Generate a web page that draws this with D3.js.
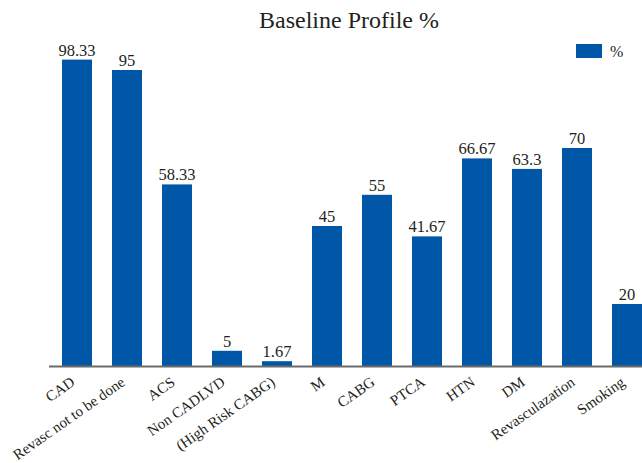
<!DOCTYPE html>
<html>
<head>
<meta charset="utf-8">
<script src="https://cdn.jsdelivr.net/npm/d3@7/dist/d3.min.js"></script>
<style>
  html, body { margin: 0; padding: 0; background: #fff; }
  svg { display: block; }
  text { font-family: "Liberation Serif", "Times New Roman", serif; fill: #231f20; }
</style>
</head>
<body>
<svg id="chart" width="642" height="463"></svg>
<script>
// Baseline profile of the study group, in percent
const categories = [
  "CAD", "Revasc not to be done", "ACS", "Non CADLVD", "(High Risk CABG)",
  "M", "CABG", "PTCA", "HTN", "DM", "Revasculazation", "Smoking"
];
const values = [98.33, 95, 58.33, 5, 1.67, 45, 55, 41.67, 66.67, 63.3, 70, 20];
const valueLabels = ["98.33", "95", "58.33", "5", "1.67", "45", "55", "41.67", "66.67", "63.3", "70", "20"];
const seriesName = "%";
const chartTitle = "Baseline Profile %";

const barColor = "#0057a8";
const axisColor = "#6b6b6b";
const serif = "'Liberation Serif', 'Times New Roman', serif";

const svg = d3.select("#chart");

const x = d3.scaleBand()
  .domain(categories)
  .range([52, 652])
  .paddingInner(0.4)
  .paddingOuter(0.2);

const y = d3.scaleLinear()
  .domain([0, 100])
  .range([366.4, 54.4]);

// Title
svg.append("text")
  .attr("x", 349)
  .attr("y", 28)
  .attr("text-anchor", "middle")
  .attr("font-family", serif)
  .style("font-size", "24px")
  .text(chartTitle);

// Bars
svg.append("g")
  .selectAll("rect")
  .data(values)
  .join("rect")
  .attr("x", (d, i) => x(categories[i]))
  .attr("y", d => y(d))
  .attr("width", x.bandwidth())
  .attr("height", d => y(0) - y(d))
  .attr("fill", barColor);

// Value labels above bars
svg.append("g")
  .attr("font-family", serif)
  .selectAll("text")
  .data(values)
  .join("text")
  .attr("x", (d, i) => x(categories[i]) + x.bandwidth() / 2)
  .attr("y", d => y(d) - 4)
  .attr("text-anchor", "middle")
  .style("font-size", "16.5px")
  .text((d, i) => valueLabels[i]);

// Category axis along the baseline
const xAxis = svg.append("g")
  .attr("transform", `translate(0,${y(0)})`)
  .call(d3.axisBottom(x).tickSize(0).tickPadding(0))
  .attr("font-family", serif);

xAxis.select(".domain")
  .attr("d", "M49,0H642")
  .attr("stroke", axisColor)
  .attr("stroke-width", 2);

xAxis.selectAll(".tick text")
  .attr("text-anchor", "end")
  .attr("dy", null)
  .attr("y", null)
  .attr("transform", "translate(-1,18) rotate(-35)")
  .style("font-size", "15px")
  .style("font-family", serif)
  .attr("fill", "#231f20");

// Legend
const legend = svg.append("g").attr("transform", "translate(576,44)");
legend.append("rect")
  .attr("width", 26)
  .attr("height", 14)
  .attr("fill", barColor);
legend.append("text")
  .attr("x", 34)
  .attr("y", 13)
  .attr("font-family", serif)
  .style("font-size", "16px")
  .text(seriesName);
</script>
</body>
</html>
